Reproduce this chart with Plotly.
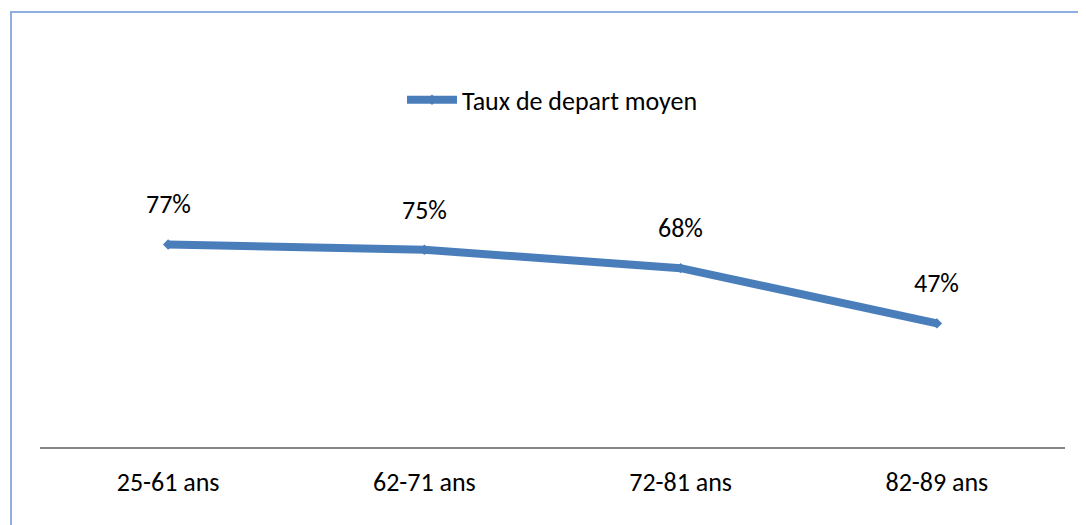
import plotly.graph_objects as go

categories = ["25-61 ans", "62-71 ans", "72-81 ans", "82-89 ans"]
values = [0.77, 0.75, 0.68, 0.47]
labels = ["77%", "75%", "68%", "47%"]
series_name = "Taux de depart moyen"

FONT = "Carlito, Lato, sans-serif"
BLUE = "#4a7ebb"

fig = go.Figure()
fig.add_trace(go.Scatter(
    x=categories, y=values, name=series_name, mode="lines+markers",
    line=dict(color=BLUE, width=8),
    marker=dict(symbol="diamond", size=8, color=BLUE),
))

for c, v, t in zip(categories, values, labels):
    fig.add_annotation(x=c, y=v, text=t, showarrow=False, yshift=40,
                       font=dict(size=26, color="#000000", family=FONT))

fig.add_shape(type="rect", xref="paper", yref="paper",
              x0=-0.0283, x1=1.1, y0=-0.5, y1=1.654,
              line=dict(color="#8eaee0", width=2), layer="below")

fig.update_layout(
    width=1086, height=525,
    margin=dict(l=32, r=29, t=176, b=86),
    paper_bgcolor="white", plot_bgcolor="white",
    showlegend=True,
    legend=dict(orientation="h", x=0.5, xanchor="center", y=1.32, yanchor="middle",
                font=dict(size=26, color="#000000", family=FONT),
                itemwidth=50),
    xaxis=dict(showgrid=False, showline=True, linecolor="#868686", linewidth=2,
               ticks="", tickfont=dict(size=26, color="#000000", family=FONT),
               ticklabelstandoff=11, range=[-0.5, 3.5]),
    yaxis=dict(range=[0, 1], showgrid=False, showline=False, showticklabels=False,
               zeroline=False, ticks=""),
)

fig.write_html("out.html")
